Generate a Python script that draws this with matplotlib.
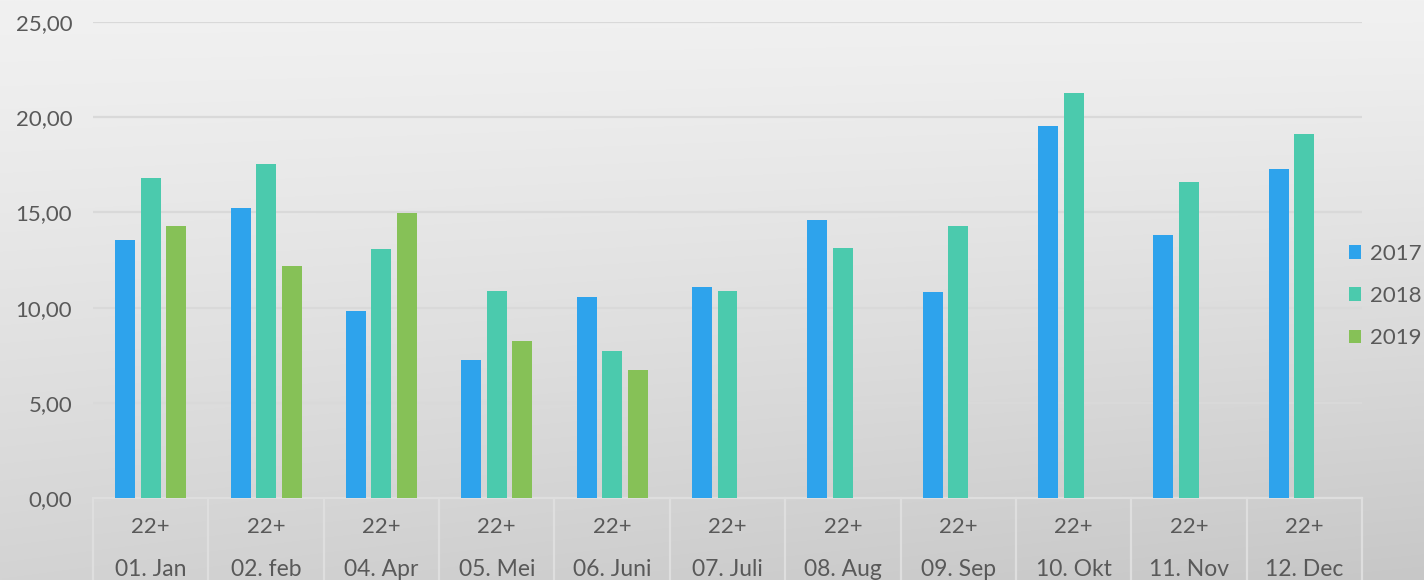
import numpy as np
import matplotlib
matplotlib.use("Agg")
import matplotlib.pyplot as plt
from matplotlib.patches import Patch
import matplotlib.transforms as mtransforms

months = ["01. Jan", "02. feb", "04. Apr", "05. Mei", "06. Juni", "07. Juli",
          "08. Aug", "09. Sep", "10. Okt", "11. Nov", "12. Dec"]
group_label = "22+"
years = ["2017", "2018", "2019"]
v2017 = [13.55, 15.23, 9.82, 7.25, 10.56, 11.08, 14.60, 10.82, 19.54, 13.81, 17.28]
v2018 = [16.81, 17.54, 13.08, 10.87, 7.72, 10.87, 13.13, 14.29, 21.27, 16.60, 19.12]
v2019 = [14.29, 12.18, 14.97, 8.25, 6.72, np.nan, np.nan, np.nan, np.nan, np.nan, np.nan]
yticks = [0, 5, 10, 15, 20, 25]
colors = ["#2EA3EC", "#4BCAAD", "#86C157"]
text_color = "#595959"

plt.rcParams['font.family'] = ['Lato', 'DejaVu Sans']

fig = plt.figure(figsize=(14.24, 5.8), dpi=100)

# background gradient
bg = fig.add_axes([0, 0, 1, 1], zorder=-10)
h, w = 200, 400
yy, xx = np.mgrid[0:1:h*1j, 0:1:w*1j]
vals = 241 - 30 * yy ** 1.2 - 12 * xx * yy
img = np.dstack([vals, vals, vals]) / 255.0
bg.imshow(img, aspect='auto', extent=[0, 1, 0, 1], interpolation='bilinear')
bg.set_axis_off()

ax = fig.add_axes([93/1424, 1-498/580, (1362-93)/1424, (498-22)/580])
ax.patch.set_alpha(0)

n = len(months)
x = np.arange(n)
bw = 20/115.4
step = 25.5/115.4
for i, (vals_, c) in enumerate(zip([v2017, v2018, v2019], colors)):
    ax.bar(x + (i - 1) * step, vals_, width=bw, color=c, zorder=3, label=years[i])

ax.set_xlim(-0.5, n - 0.5)
ax.set_ylim(0, 25)
ax.set_yticks(yticks)
ax.set_yticklabels([f"{t:.2f}".replace('.', ',') for t in yticks])
ax.tick_params(axis='y', length=0, pad=15, labelsize=16, labelcolor=text_color)
ax.set_xticks([])
for s in ax.spines.values():
    s.set_visible(False)
ax.grid(axis='y', color='#d9d9d9', linewidth=1.6, zorder=0)
ax.set_axisbelow(True)

trans = mtransforms.blended_transform_factory(ax.transData, ax.transAxes)
line_c = '#dedede'
ax.plot([-0.5, n - 0.5], [0, 0], transform=trans, color=line_c, lw=1.6, clip_on=False, zorder=2)
for b in np.arange(-0.5, n, 1.0):
    ax.plot([b, b], [0, -0.2], transform=trans, color=line_c, lw=1.6, clip_on=False, zorder=2)
for i in range(n):
    ax.text(i, -29/476, group_label, transform=trans, ha='center', va='center',
            fontsize=16, color=text_color)
    ax.text(i, -71/476, months[i], transform=trans, ha='center', va='center',
            fontsize=16.5, color=text_color)

handles = [Patch(facecolor=c, edgecolor='none') for c in colors]
leg = fig.legend(handles, years, loc='center left', bbox_to_anchor=(1349/1424, 1-296/580),
                 frameon=False, fontsize=16, labelcolor=text_color,
                 handlelength=0.55, handleheight=0.55, handletextpad=0.4,
                 labelspacing=1.0, borderpad=0, borderaxespad=0)

fig.savefig("out.png", dpi=100)
